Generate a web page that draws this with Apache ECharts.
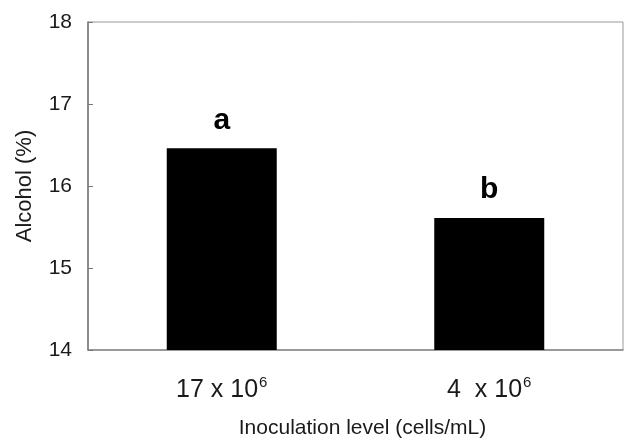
<!DOCTYPE html>
<html>
<head>
<meta charset="utf-8">
<script src="https://cdn.jsdelivr.net/npm/echarts@6/dist/echarts.min.js"></script>
<style>html,body{margin:0;padding:0;background:#fff;}#c{width:625px;height:439px;}</style>
</head>
<body>
<div id="c"></div>
<script>
var categories = ['17 x 10', '4  x 10'];
var exponents = ['6', '6'];
var alcohol = [16.46, 15.61];
var letters = ['a', 'b'];
var yTicks = [14, 15, 16, 17, 18];

var chart = echarts.init(document.getElementById('c'), null, {renderer: 'canvas'});
var font = '"Liberation Sans", Arial, sans-serif';
var txt = '#1a1a1a';
chart.setOption({
  animation: false,
  backgroundColor: '#fff',
  grid: {left: 88, right: 2, top: 22, bottom: 89, outerBoundsMode: 'none', containLabel: false, show: true, borderColor: '#999', borderWidth: 1, backgroundColor: 'transparent'},
  xAxis: {
    type: 'category',
    data: categories,
    name: 'Inoculation level (cells/mL)',
    nameLocation: 'middle',
    nameGap: 68,
    nameTextStyle: {fontFamily: font, fontSize: 21, color: txt, padding: [0, 0, 0, 14]},
    axisLine: {lineStyle: {color: '#888', width: 1.5}},
    axisTick: {show: false},
    axisLabel: {
      margin: 25,
      color: txt,
      fontFamily: font,
      fontSize: 25,
      formatter: function (v, i) { return '{n|' + v + '}{s|' + exponents[i] + '}'; },
      rich: {
        n: {fontFamily: font, fontSize: 25, color: txt},
        s: {fontFamily: font, fontSize: 15, color: txt, verticalAlign: 'top', padding: [0, 0, 16, 1]}
      }
    }
  },
  yAxis: {
    type: 'value',
    min: yTicks[0],
    max: yTicks[yTicks.length - 1],
    interval: 1,
    name: 'Alcohol (%)',
    nameLocation: 'middle',
    nameGap: 52,
    nameTextStyle: {fontFamily: font, fontSize: 22, color: txt},
    axisLine: {show: true, lineStyle: {color: '#777', width: 1.5}},
    axisTick: {show: true, inside: true, length: 5, lineStyle: {color: '#777'}},
    splitLine: {show: false},
    axisLabel: {margin: 16, color: txt, fontFamily: font, fontSize: 21}
  },
  series: [{
    type: 'bar',
    data: alcohol,
    barWidth: 110,
    itemStyle: {color: '#000'},
    label: {
      show: true,
      position: 'top',
      distance: 13,
      formatter: function (p) { return letters[p.dataIndex]; },
      fontFamily: font,
      fontSize: 30,
      fontWeight: 'bold',
      color: '#000'
    }
  }]
});
</script>
</body>
</html>
